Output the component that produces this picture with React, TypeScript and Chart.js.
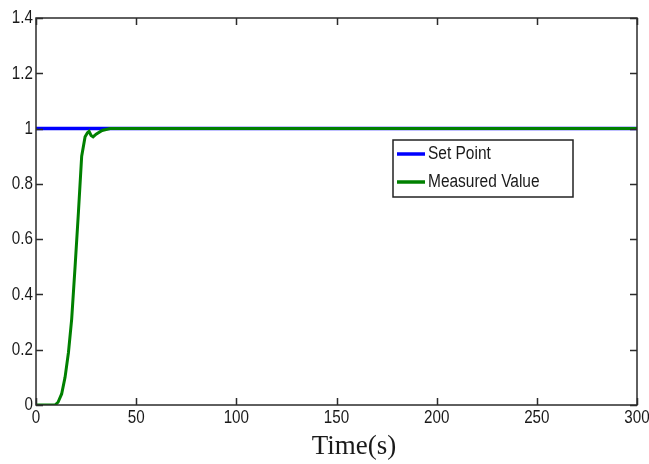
import React, { useEffect, useRef } from "react";
import Chart from "chart.js/auto";

const xTicks = [0, 50, 100, 150, 200, 250, 300];
const yTicks = [0, 0.2, 0.4, 0.6, 0.8, 1, 1.2, 1.4];

const setPointTime = [0, 300];
const setPointValue = [1, 1];

const measuredTime = [0, 5, 9.5, 11, 12.8, 14.5, 16.2, 17.8, 19.5, 21.2, 22.8, 24.5, 25.7, 26.5, 27.5, 28.5, 30, 33, 37, 45, 300];
const measuredValue = [0, 0, 0, 0.01, 0.04, 0.1, 0.19, 0.31, 0.5, 0.7, 0.9, 0.97, 0.985, 0.99, 0.975, 0.97, 0.98, 0.993, 1.0, 1.0, 1.0];

const seriesLabels = ["Set Point", "Measured Value"];
const seriesColors = ["#0000ff", "#008000"];
const xTitle = "Time(s)";

const SANS = '"Liberation Sans", Arial, sans-serif';

function fmt(v: number) {
  return String(Math.round(v * 10) / 10);
}

function squeezedText(ctx: any, text: string, x: number, y: number, sx: number, align: string) {
  ctx.save();
  ctx.translate(x, y);
  ctx.scale(sx, 1);
  ctx.textAlign = align;
  ctx.textBaseline = "middle";
  ctx.fillText(text, 0, 0);
  ctx.restore();
}

const framePlugin = {
  id: "frame",
  afterDatasetsDraw(chart: any) {
    const { ctx, chartArea } = chart;
    const { left, right, top, bottom } = chartArea;
    const xs = chart.scales.x;
    const ys = chart.scales.y;
    ctx.save();
    ctx.strokeStyle = "#2b2b2b";
    ctx.lineWidth = 1.5;
    ctx.strokeRect(left, top, right - left, bottom - top);
    const tl = 7;
    ctx.beginPath();
    xTicks.forEach((v) => {
      const px = Math.round(xs.getPixelForValue(v)) + 0.5;
      ctx.moveTo(px, bottom);
      ctx.lineTo(px, bottom - tl);
      ctx.moveTo(px, top);
      ctx.lineTo(px, top + tl);
    });
    yTicks.forEach((v) => {
      const py = Math.round(ys.getPixelForValue(v)) + 0.5;
      ctx.moveTo(left, py);
      ctx.lineTo(left + tl, py);
      ctx.moveTo(right, py);
      ctx.lineTo(right - tl, py);
    });
    ctx.stroke();

    // tick labels
    ctx.fillStyle = "#1a1a1a";
    ctx.font = "19px " + SANS;
    xTicks.forEach((v) => {
      squeezedText(ctx, fmt(v), xs.getPixelForValue(v), bottom + 13, 0.8, "center");
    });
    yTicks.forEach((v) => {
      squeezedText(ctx, fmt(v), left - 3, ys.getPixelForValue(v), 0.8, "right");
    });

    // legend
    const lx = 393, ly = 140, lw = 180, lh = 57;
    ctx.fillStyle = "#ffffff";
    ctx.fillRect(lx, ly, lw, lh);
    ctx.strokeStyle = "#222";
    ctx.lineWidth = 1.5;
    ctx.strokeRect(lx, ly, lw, lh);
    const rows = [154, 182];
    chart.data.datasets.forEach((ds: any, i: number) => {
      ctx.strokeStyle = ds.borderColor;
      ctx.lineWidth = 3.5;
      ctx.beginPath();
      ctx.moveTo(397, rows[i]);
      ctx.lineTo(425, rows[i]);
      ctx.stroke();
      ctx.fillStyle = "#1a1a1a";
      ctx.font = "18px " + SANS;
      squeezedText(ctx, ds.label, 428, rows[i], 0.86, "left");
    });

    // x title
    ctx.fillStyle = "#1a1a1a";
    ctx.font = '27px "Liberation Serif", "Times New Roman", serif';
    ctx.textAlign = "center";
    ctx.textBaseline = "middle";
    ctx.fillText(xTitle, 354, 447);
    ctx.restore();
  },
};

export default function App() {
  const ref = useRef<HTMLCanvasElement | null>(null);
  useEffect(() => {
    document.body.style.margin = "0";
    const canvas = ref.current!;
    const chart = new Chart(canvas, {
      type: "line",
      data: {
        datasets: [
          {
            label: seriesLabels[0],
            data: setPointTime.map((t, i) => ({ x: t, y: setPointValue[i] })),
            borderColor: seriesColors[0],
            backgroundColor: seriesColors[0],
            borderWidth: 3.5,
            pointRadius: 0,
            tension: 0,
            order: 2,
          },
          {
            label: seriesLabels[1],
            data: measuredTime.map((t, i) => ({ x: t, y: measuredValue[i] })),
            borderColor: seriesColors[1],
            backgroundColor: seriesColors[1],
            borderWidth: 3,
            pointRadius: 0,
            tension: 0,
            order: 1,
          },
        ],
      },
      options: {
        responsive: false,
        animation: false,
        devicePixelRatio: 1,
        layout: { padding: { left: 0, right: 12, top: 18, bottom: 0 } },
        plugins: { legend: { display: false }, tooltip: { enabled: false } },
        scales: {
          x: {
            type: "linear",
            min: 0,
            max: 300,
            afterFit: (s: any) => {
              s.height = 59;
              s.paddingLeft = 0;
              s.paddingRight = 0;
              s.paddingTop = 0;
              s.paddingBottom = 0;
            },
            afterBuildTicks: (s: any) => { s.ticks = xTicks.map((v) => ({ value: v })); },
            grid: { display: false, drawTicks: false },
            border: { display: false },
            ticks: { display: false },
          },
          y: {
            min: 0,
            max: 1.4,
            afterFit: (s: any) => {
              s.width = 36;
              s.paddingLeft = 0;
              s.paddingRight = 0;
              s.paddingTop = 0;
              s.paddingBottom = 0;
            },
            afterBuildTicks: (s: any) => { s.ticks = yTicks.map((v) => ({ value: v })); },
            grid: { display: false, drawTicks: false },
            border: { display: false },
            ticks: { display: false },
          },
        },
      },
      plugins: [framePlugin],
    });
    return () => chart.destroy();
  }, []);
  return (
    <div style={{ position: "absolute", left: 0, top: 0, width: 649, height: 464, background: "#fff" }}>
      <canvas ref={ref} width={649} height={464} />
    </div>
  );
}
